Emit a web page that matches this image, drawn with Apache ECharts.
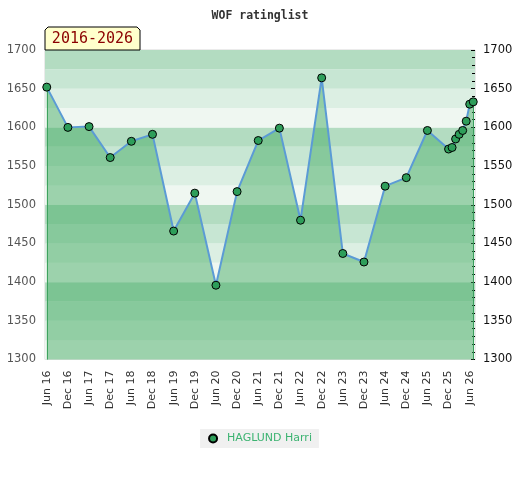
<!DOCTYPE html>
<html>
<head>
<meta charset="utf-8">
<script src="https://cdn.jsdelivr.net/npm/echarts@6/dist/echarts.min.js"></script>
<style>html,body{margin:0;padding:0;background:#fff}#c{width:520px;height:480px}</style>
</head>
<body>
<div id="c"></div>
<script>
var titleText = 'WOF ratinglist';
var periodText = '2016-2026';
var seriesName = 'HAGLUND Harri';
var dates = ['2016-06','2016-12','2017-06','2017-12','2018-06','2018-12','2019-06','2019-12','2020-06','2020-12','2021-06','2021-12','2022-06','2022-12','2023-06','2023-12','2024-06','2024-12','2025-06','2025-12','2026-01','2026-02','2026-03','2026-04','2026-05','2026-06','2026-07'];
var ratings = [1652,1600,1601,1561,1582,1591,1466,1515,1396,1517,1583,1599,1480,1664,1437,1426,1524,1535,1596,1572,1574,1585,1591,1596,1608,1630,1633];
var monthNames = ['Jan','Feb','Mar','Apr','May','Jun','Jul','Aug','Sep','Oct','Nov','Dec'];
var yMin = 1300, yMax = 1700, yStep = 50, bandStep = 25;

// monthly categories from first to last date
var categories = [];
(function(){
  var s = dates[0].split('-').map(Number), e = dates[dates.length-1].split('-').map(Number);
  var y = s[0], m = s[1];
  while (y < e[0] || (y === e[0] && m <= e[1])) {
    categories.push(y + '-' + (m < 10 ? '0' + m : m));
    m++; if (m > 12) { m = 1; y++; }
  }
})();

var seriesData = dates.map(function(d, i){ return [d, ratings[i]]; });

// band colours from the bottom of each 100-block upward
var bandColors = ['#eff7f1','#dcefe3','#c7e6d3','#b3dcc1'];

var chart = echarts.init(document.getElementById('c'));
chart.setOption({
  animation: false,
  backgroundColor: '#fff',
  title: {
    text: titleText, left: 'center', top: 5,
    textStyle: {fontFamily: 'DejaVu Sans Mono', fontSize: 11.5, fontWeight: 'bold', color: '#333'}
  },
  graphic: [{
    type: 'polygon', z: 100,
    shape: {points: [[45,50],[45,30],[48,27],[137,27],[140,30],[140,50]]},
    style: {fill: '#ffffcc', stroke: '#000', lineWidth: 1}
  }, {
    type: 'text', z: 101, x: 92.5, y: 39.5,
    style: {text: periodText, fill: '#8b0000', font: '15px "DejaVu Sans Mono"', align: 'center', verticalAlign: 'middle'}
  }],
  legend: {
    data: [seriesName], bottom: 32, left: 'center',
    backgroundColor: '#f0f0f0', padding: [4, 7, 4, 8],
    icon: 'circle', itemWidth: 8, itemHeight: 8,
    textStyle: {color: '#3cb371', fontSize: 11, fontFamily: 'DejaVu Sans', padding: [0, 0, 0, 5]}
  },
  grid: {left: 45, right: 45, top: 50, bottom: 120.5, outerBoundsMode: 'none', containLabel: false,
         show: true, borderColor: '#d6d6d6', borderWidth: 1, backgroundColor: 'transparent'},
  xAxis: {
    type: 'category', data: categories, boundaryGap: true,
    axisLine: {show: false}, axisTick: {show: false},
    axisLabel: {
      interval: 5, rotate: 90, margin: 11, color: '#333', fontSize: 11, fontFamily: 'DejaVu Sans',
      formatter: function(val){ var p = val.split('-'); return monthNames[+p[1]-1] + ' ' + p[0].slice(2); }
    },
    splitLine: {show: false}
  },
  yAxis: [{
    type: 'value', min: yMin, max: yMax, interval: yStep, position: 'left',
    axisLine: {show: false}, axisTick: {show: false}, splitLine: {show: false},
    axisLabel: {color: '#555', fontSize: 11.5, fontFamily: 'DejaVu Sans', margin: 9, formatter: function(v){ return String(v); }}
  }, {
    type: 'value', min: yMin, max: yMax, interval: yStep, position: 'right',
    axisLine: {show: false},
    axisTick: {show: true, inside: true, length: 4, lineStyle: {color: '#000'}},
    minorTick: {show: true, splitNumber: 5, length: 3, lineStyle: {color: '#000'}},
    splitLine: {show: false},
    axisLabel: {color: '#111', fontSize: 11.5, fontFamily: 'DejaVu Sans', margin: 8, formatter: function(v){ return String(v); }}
  }, {
    type: 'value', min: yMin, max: yMax, interval: bandStep, position: 'left', offset: 0,
    axisLine: {show: false}, axisTick: {show: false}, axisLabel: {show: false},
    splitLine: {show: false},
    splitArea: {show: true, areaStyle: {color: bandColors, opacity: 1}}
  }],
  series: [{
    name: seriesName, type: 'line', data: seriesData, z: 5,
    symbol: 'circle', symbolSize: 8, showAllSymbol: true,
    lineStyle: {color: '#5b9bd5', width: 2},
    itemStyle: {color: '#2e9e5a', borderColor: '#000', borderWidth: 1},
    areaStyle: {color: '#41aa61', opacity: 0.48},
    markLine: {
      silent: true, symbol: 'none', label: {show: false},
      lineStyle: {color: '#3a9d5d', width: 1, type: 'solid'},
      data: [
        [{coord: [dates[0], yMin]}, {coord: [dates[0], ratings[0]]}],
        [{coord: [dates[dates.length-1], yMin]}, {coord: [dates[dates.length-1], ratings[ratings.length-1]]}]
      ]
    }
  }]
});
</script>
</body>
</html>
